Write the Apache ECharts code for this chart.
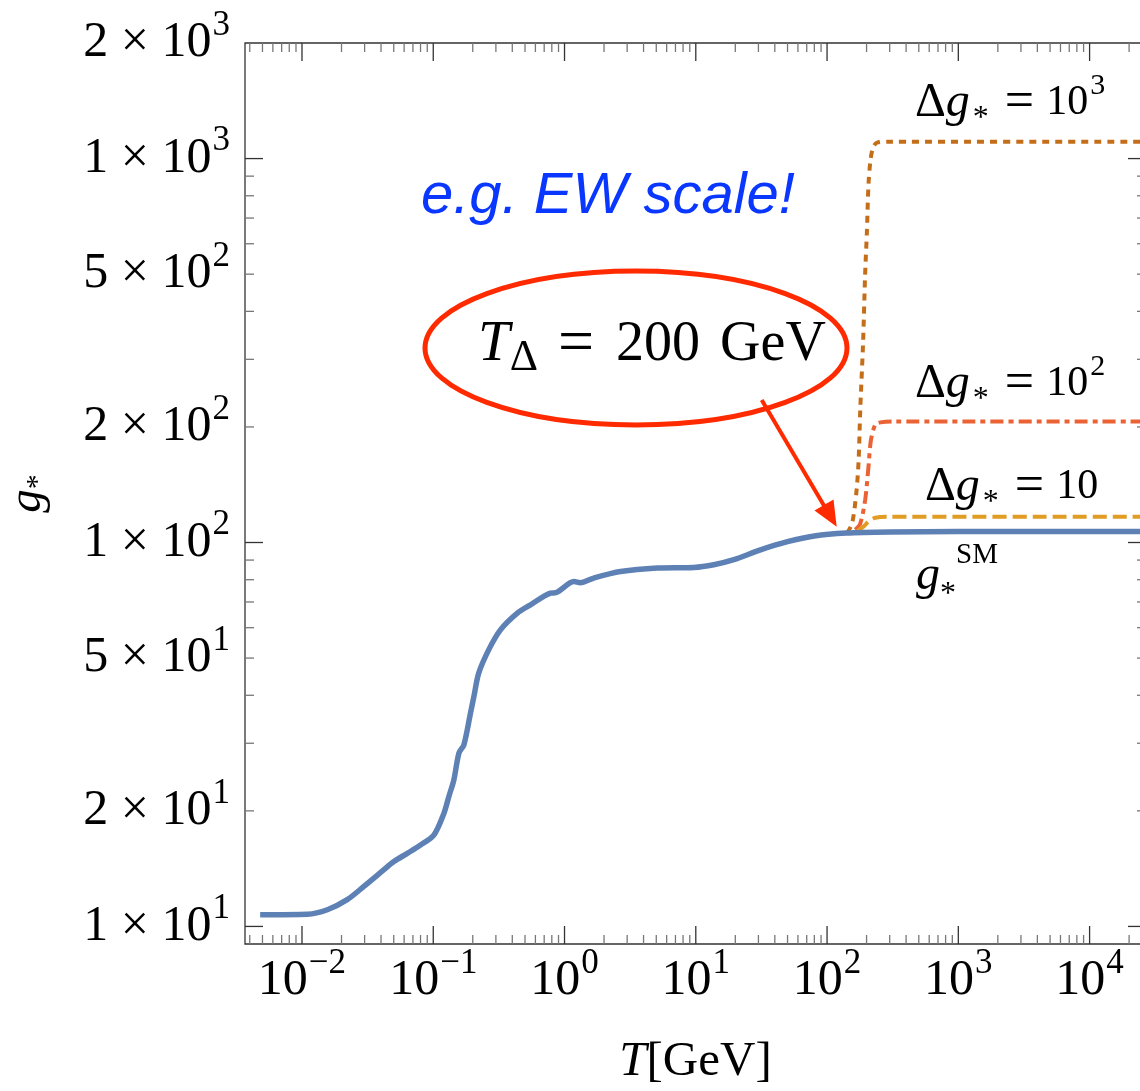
<!DOCTYPE html>
<html lang="en" style="height: 100%">
<head>
  <meta charset="utf-8">
</head>
<body style="height: 100%; margin: 0">
  <div id="container" style="width: 1140px; height: 1091px"></div>

  <script type="text/javascript" src="https://fastly.jsdelivr.net/npm/echarts@6.0.0/dist/echarts.min.js"></script>
  <script type="text/javascript">
    var dom = document.getElementById('container');
    var myChart = echarts.init(dom, null, { renderer: 'canvas' });

    // axis ranges
    var T_MIN = 0.00368, T_MAX = 26900;
    var G_MIN = 9, G_MAX = 2000;

    // ticks and tick labels
    var T_DECADES = [-3, -2, -1, 0, 1, 2, 3, 4];
    var G_DECADES = [1, 2, 3];
    var MINOR_STEPS = [2, 3, 4, 5, 6, 7, 8, 9];
    var G_LABELS = [10, 20, 50, 100, 200, 500, 1000, 2000];

    // g*^SM
    var T_SM = [0.0048, 0.011, 0.0156, 0.0221, 0.0296, 0.0421, 0.0501, 0.0634, 0.080, 0.101,
      0.1205, 0.1315, 0.1436, 0.157, 0.171, 0.192, 0.204, 0.222, 0.265, 0.326,
      0.437, 0.551, 0.782, 0.86, 1.18, 1.32, 1.67, 2.67, 5.08, 9.66, 13.7, 19.5, 31.1, 50,
      80, 140, 300, 1000, 26900];
    var G_SM = [10.73, 10.76, 11.05, 11.74, 12.71, 14.05, 14.76, 15.5, 16.3, 17.3,
      19.7, 21.8, 24.1, 28.3, 29.7, 35.9, 39.7, 45.7, 52.6, 59.3,
      65.5, 68.8, 73.8, 74.0, 79.1, 78.6, 80.8, 84.0, 85.8, 86.1, 87.5, 90.2, 95.7, 100.5,
      104, 105.8, 106.5, 106.75, 106.75];

    // Δg* = 10
    var T_D1 = [170, 190, 207, 233, 300, 26900];
    var G_D1 = [107, 110, 113.5, 116, 116.75, 116.75];
    // Δg* = 10^2
    var T_D2 = [164, 179, 195, 207, 216, 233, 255, 320, 26900];
    var G_D2 = [108, 112, 129, 158, 185, 202.5, 205.5, 206.75, 206.75];
    // Δg* = 10^3
    var T_D3 = [142, 155, 167, 174, 179, 188, 195, 201, 207, 215, 225, 240, 300, 26900];
    var G_D3 = [106, 112, 134.5, 164, 221.6, 330, 500, 640, 860, 1000, 1070, 1100, 1106.75, 1106.75];

    var SERIF = "'Liberation Serif', 'DejaVu Serif', serif";
    var SANS = "'Liberation Sans', Arial, sans-serif";

    function zip(xs, ys) {
      return xs.map(function (x, i) { return [x, ys[i]]; });
    }

    // tick list: [value, other-axis value, major flag]
    var tTicks = [];
    T_DECADES.forEach(function (e) {
      var p = Math.pow(10, e);
      if (p > T_MIN && p < T_MAX) tTicks.push([p, G_MIN, 1]);
      MINOR_STEPS.forEach(function (m) {
        var v = m * p;
        if (v > T_MIN && v < T_MAX) tTicks.push([v, G_MIN, 0]);
      });
    });
    var gTicks = [];
    G_DECADES.forEach(function (e) {
      var p = Math.pow(10, e);
      if (p > G_MIN && p < G_MAX) gTicks.push([T_MIN, p, 1]);
      MINOR_STEPS.forEach(function (m) {
        var v = m * p;
        if (v > G_MIN && v < G_MAX) gTicks.push([T_MIN, v, 0]);
      });
    });

    function tickStyle(major) {
      return { stroke: major ? '#333' : '#777', lineWidth: 1.3 };
    }

    function renderTTick(params, api) {
      var major = api.value(2) === 1;
      var len = major ? 18 : 9;
      var pb = api.coord([api.value(0), G_MIN]);
      var pt = api.coord([api.value(0), G_MAX]);
      return {
        type: 'group',
        children: [
          { type: 'line', shape: { x1: pb[0], y1: pb[1], x2: pb[0], y2: pb[1] - len }, style: tickStyle(major) },
          { type: 'line', shape: { x1: pt[0], y1: pt[1], x2: pt[0], y2: pt[1] + len }, style: tickStyle(major) }
        ]
      };
    }

    function renderGTick(params, api) {
      var major = api.value(2) === 1;
      var len = major ? 18 : 9;
      var pl = api.coord([T_MIN, api.value(1)]);
      var pr = api.coord([T_MAX, api.value(1)]);
      return {
        type: 'group',
        children: [
          { type: 'line', shape: { x1: pl[0], y1: pl[1], x2: pl[0] + len, y2: pl[1] }, style: tickStyle(major) },
          { type: 'line', shape: { x1: pr[0], y1: pr[1], x2: pr[0] - len, y2: pr[1] }, style: tickStyle(major) }
        ]
      };
    }

    var tickRich = {
      b: { fontFamily: SERIF, fontSize: 50, lineHeight: 70, color: '#000' },
      s: { fontFamily: SERIF, fontSize: 35, lineHeight: 35, verticalAlign: 'top', color: '#000', padding: [0, 0, 0, 1] }
    };

    function powLabel(v) {
      var e = Math.round(Math.log10(v));
      return '{b|10}{s|' + (e < 0 ? '\u2212' + (-e) : e) + '}';
    }
    function mantLabel(v) {
      var e = Math.floor(Math.log10(v) + 1e-9);
      var m = Math.round(v / Math.pow(10, e));
      return '{b|' + m + ' \u00d7 10}{s|' + e + '}';
    }

    // annotation text styles
    var annRich = {
      d: { fontFamily: SERIF, fontSize: 48, lineHeight: 64, fill: '#000' },
      i: { fontFamily: SERIF, fontSize: 48, fontStyle: 'italic', lineHeight: 64, fill: '#000' },
      sb: { fontFamily: SERIF, fontSize: 32, lineHeight: 28, verticalAlign: 'bottom', fill: '#000', padding: [0, 0, 0, 3] },
      eq: { fontFamily: SERIF, fontSize: 52, lineHeight: 64, fill: '#000', padding: [0, 12, 0, 16] },
      n: { fontFamily: SERIF, fontSize: 42, lineHeight: 64, fill: '#000' },
      sp: { fontFamily: SERIF, fontSize: 30, lineHeight: 28, verticalAlign: 'top', fill: '#000', padding: [0, 0, 0, 2] }
    };
    var smRich = {
      i: { fontFamily: SERIF, fontSize: 48, fontStyle: 'italic', lineHeight: 70, fill: '#000' },
      sb: { fontFamily: SERIF, fontSize: 32, lineHeight: 12, verticalAlign: 'bottom', fill: '#000' },
      sp: { fontFamily: SERIF, fontSize: 29, lineHeight: 50, verticalAlign: 'top', fill: '#000' }
    };
    var tdRich = {
      i: { fontFamily: SERIF, fontSize: 57, fontStyle: 'italic', lineHeight: 71, fill: '#000' },
      sb: { fontFamily: SERIF, fontSize: 44, lineHeight: 38, verticalAlign: 'bottom', fill: '#000' },
      eq: { fontFamily: SERIF, fontSize: 64, lineHeight: 71, fill: '#000', padding: [0, 22, 0, 20] },
      r: { fontFamily: SERIF, fontSize: 56, lineHeight: 71, fill: '#000' },
      u: { fontFamily: SERIF, fontSize: 56, lineHeight: 71, fill: '#000', padding: [0, 0, 0, 20] }
    };

    var RED = '#ff2a00';

    function deltaLabel(num, sup) {
      return '{d|\u0394}{i|g}{sb|*}{eq|=}{n|' + num + '}' + (sup ? '{sp|' + sup + '}' : '');
    }

    var option = {
      animation: false,
      backgroundColor: '#fff',
      grid: {
        left: 245, top: 43, right: -6, bottom: 147,
        show: true, borderColor: '#333', borderWidth: 1.3,
        outerBoundsMode: 'none'
      },
      xAxis: {
        type: 'log', min: T_MIN, max: T_MAX,
        name: '{i|T}{r|[GeV]}', nameLocation: 'middle', nameGap: 94, nameMoveOverlap: false,
        nameTextStyle: {
          rich: {
            i: { fontFamily: SERIF, fontStyle: 'italic', fontSize: 49, color: '#000' },
            r: { fontFamily: SERIF, fontSize: 49, color: '#000' }
          }
        },
        axisLine: { show: false }, axisTick: { show: false },
        splitLine: { show: false }, minorTick: { show: false },
        axisLabel: {
          margin: 2, interval: 0, showMinLabel: false, showMaxLabel: false,
          formatter: powLabel, rich: tickRich
        }
      },
      yAxis: {
        type: 'log', min: G_MIN, max: G_MAX,
        name: '{i|g}{s|*}', nameLocation: 'middle', nameGap: 192, nameRotate: 90, nameMoveOverlap: false,
        nameTextStyle: {
          rich: {
            i: { fontFamily: SERIF, fontStyle: 'italic', fontSize: 47, lineHeight: 50, color: '#000' },
            s: { fontFamily: SERIF, fontSize: 30, lineHeight: 20, verticalAlign: 'bottom', color: '#000' }
          }
        },
        axisLine: { show: false }, axisTick: { show: false },
        splitLine: { show: false }, minorTick: { show: false },
        axisLabel: {
          customValues: G_LABELS, margin: 15,
          formatter: mantLabel, rich: tickRich
        }
      },
      series: [
        {
          name: 'Δg* = 10^3', type: 'line', data: zip(T_D3, G_D3), showSymbol: false,
          smooth: 0.3, z: 2, silent: true,
          lineStyle: { color: '#c56e1a', width: 4, type: [7, 6] }
        },
        {
          name: 'Δg* = 10^2', type: 'line', data: zip(T_D2, G_D2), showSymbol: false,
          smooth: 0.3, z: 2, silent: true,
          lineStyle: { color: '#eb6235', width: 4, type: [13, 5, 5, 5] }
        },
        {
          name: 'Δg* = 10', type: 'line', data: zip(T_D1, G_D1), showSymbol: false,
          smooth: 0.3, z: 2, silent: true,
          lineStyle: { color: '#e19c24', width: 4, type: [14, 6] }
        },
        {
          name: 'g*SM', type: 'line', data: zip(T_SM, G_SM), showSymbol: false,
          smooth: 0.3, z: 3, silent: true,
          lineStyle: { color: '#5e81b5', width: 5.5 }
        },
        {
          type: 'custom', coordinateSystem: 'cartesian2d', silent: true, z: 5, clip: false,
          encode: { x: 0, y: 1 }, data: tTicks, renderItem: renderTTick
        },
        {
          type: 'custom', coordinateSystem: 'cartesian2d', silent: true, z: 5, clip: false,
          encode: { x: 0, y: 1 }, data: gTicks, renderItem: renderGTick
        }
      ],
      graphic: [
        {
          type: 'text', z: 10,
          style: {
            text: 'e.g. EW scale!', x: 421, y: 197, align: 'left', verticalAlign: 'middle',
            fontFamily: SANS, fontStyle: 'italic', fontSize: 58, fill: '#0a37ff'
          }
        },
        {
          type: 'ellipse', z: 10,
          shape: { cx: 636, cy: 348, rx: 211, ry: 77 },
          style: { fill: 'none', stroke: RED, lineWidth: 5 }
        },
        {
          type: 'text', z: 10,
          style: {
            text: '{i|T}{sb|\u0394}{eq|=}{r|200}{u|GeV}', rich: tdRich,
            x: 478, y: 345, align: 'left', verticalAlign: 'middle'
          }
        },
        {
          type: 'line', z: 10,
          shape: { x1: 761.7, y1: 400, x2: 826, y2: 509 },
          style: { stroke: RED, lineWidth: 4 }
        },
        {
          type: 'polygon', z: 10,
          shape: { points: [[836.7, 526.7], [814.5, 510.6], [833.5, 499.4]] },
          style: { fill: RED }
        },
        {
          type: 'text', z: 10,
          style: { text: deltaLabel('10', '3'), rich: annRich, x: 915, y: 103, align: 'left', verticalAlign: 'middle' }
        },
        {
          type: 'text', z: 10,
          style: { text: deltaLabel('10', '2'), rich: annRich, x: 915, y: 384, align: 'left', verticalAlign: 'middle' }
        },
        {
          type: 'text', z: 10,
          style: { text: deltaLabel('10'), rich: annRich, x: 925, y: 487, align: 'left', verticalAlign: 'middle' }
        },
        {
          type: 'text', z: 10,
          style: { text: '{i|g}{sb|*}{sp|SM}', rich: smRich, x: 916, y: 576, align: 'left', verticalAlign: 'middle' }
        }
      ]
    };

    myChart.setOption(option);
    window.addEventListener('resize', myChart.resize);
  </script>
</body>
</html>
